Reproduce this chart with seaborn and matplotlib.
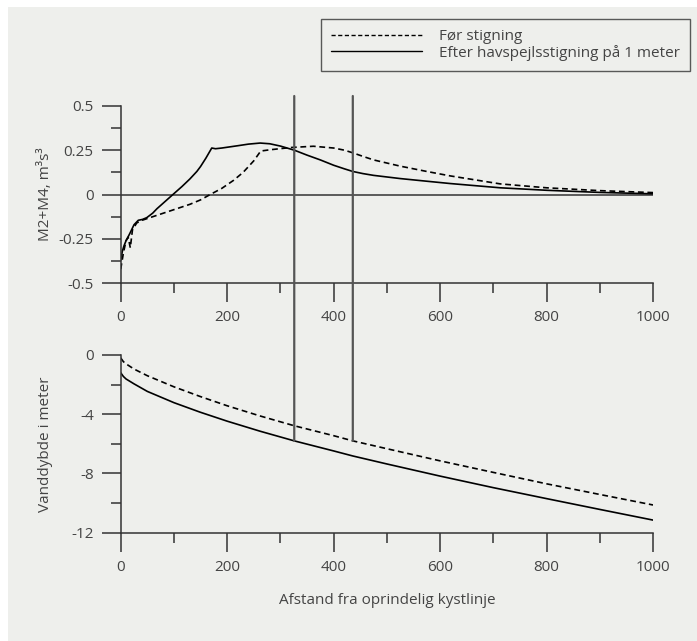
import numpy as np
import pandas as pd
import matplotlib
matplotlib.use("Agg")
import matplotlib.pyplot as plt
from matplotlib.patches import Rectangle, ConnectionPatch
from matplotlib.lines import Line2D
import seaborn as sns

# M2+M4 (m3 s3) langs profilet
flux_x_before = [0, 5, 10, 14, 18, 22, 30, 40, 60, 80, 100, 130, 150, 168, 190, 212, 230, 250, 263,
                 280, 320, 362, 400, 420, 436, 455, 475, 525, 575, 619, 713, 800, 900, 1000]
flux_before = [-0.42, -0.33, -0.26, -0.24, -0.30, -0.20, -0.16, -0.145, -0.125, -0.105, -0.085, -0.055, -0.03, 0.0,
               0.035, 0.08, 0.125, 0.19, 0.245, 0.252, 0.265, 0.272, 0.262, 0.25, 0.235, 0.215, 0.195, 0.16,
               0.13, 0.105, 0.06, 0.038, 0.022, 0.011]
flux_x_after = [0, 3, 6, 10, 17, 25, 33, 41, 49, 60, 68, 80, 98, 115, 130, 143, 150, 160, 171, 178, 190, 220,
                240, 262, 280, 300, 326, 350, 375, 400, 420, 436, 455, 475, 525, 575, 619, 713, 800, 900, 1000]
flux_after = [-0.37, -0.32, -0.29, -0.26, -0.22, -0.17, -0.145, -0.14, -0.13, -0.105, -0.08, -0.048, 0.0, 0.045,
              0.088, 0.13, 0.158, 0.205, 0.262, 0.258, 0.262, 0.275, 0.284, 0.29, 0.286, 0.273, 0.25, 0.222,
              0.195, 0.165, 0.145, 0.13, 0.118, 0.108, 0.09, 0.075, 0.062, 0.038, 0.024, 0.012, 0.004]

# vanddybde (m)
depth_x = [0, 5, 10, 25, 50, 100, 149, 200, 262, 326, 400, 436, 500, 600, 700, 800, 900, 1000]
depth_before = [-0.2, -0.45, -0.6, -0.95, -1.4, -2.15, -2.8, -3.43, -4.12, -4.78, -5.45, -5.8, -6.33, -7.15,
                -7.93, -8.7, -9.42, -10.13]
depth_after = [-1.2, -1.45, -1.62, -1.95, -2.46, -3.22, -3.86, -4.47, -5.15, -5.8, -6.48, -6.82, -7.36, -8.18,
               -8.96, -9.7, -10.43, -11.15]

cut_x = [326, 436]

label_before = "Før stigning"
label_after = "Efter havspejlsstigning på 1 meter"

sns.set_theme(style="ticks")
plt.rcParams['font.family'] = ['Open Sans', 'DejaVu Sans']
plt.rcParams['axes.unicode_minus'] = False

bg = '#eeefec'
ink = '#333333'
txt = '#444444'

fig = plt.figure(figsize=(6.97, 6.41), dpi=100)
fig.patch.set_facecolor('white')
fig.patches.append(Rectangle((8 / 697, 0), 1, 1 - 7 / 641, transform=fig.transFigure,
                             facecolor=bg, edgecolor='none', zorder=-10))

ax1 = fig.add_axes([0.1732, 0.558, 0.7637, 0.277])
ax2 = fig.add_axes([0.1732, 0.169, 0.7637, 0.2772])

df_before = pd.DataFrame({'x': flux_x_before, 'y': flux_before})
df_after = pd.DataFrame({'x': flux_x_after, 'y': flux_after})
sns.lineplot(data=df_before, x='x', y='y', ax=ax1, color='black', lw=1.2,
             linestyle=(0, (3.5, 2.2)), estimator=None, sort=False)
sns.lineplot(data=df_after, x='x', y='y', ax=ax1, color='black', lw=1.2,
             estimator=None, sort=False)
ax1.axhline(0, color=ink, lw=1.1, zorder=1)

ddf = pd.DataFrame({'x': depth_x, 'before': depth_before, 'after': depth_after})
sns.lineplot(data=ddf, x='x', y='before', ax=ax2, color='black', lw=1.2,
             linestyle=(0, (3.5, 2.2)), estimator=None)
sns.lineplot(data=ddf, x='x', y='after', ax=ax2, color='black', lw=1.2,
             estimator=None)

for ax in (ax1, ax2):
    ax.set_facecolor('none')
    ax.set_xlim(0, 1000)
    ax.set_xticks([0, 200, 400, 600, 800, 1000])
    ax.set_xticks([100, 300, 500, 700, 900], minor=True)
    ax.set_xticklabels(['0', '200', '400', '600', '800', '1000'])
    for s in ('top', 'right'):
        ax.spines[s].set_visible(False)
    for s in ('left', 'bottom'):
        ax.spines[s].set_color(ink)
        ax.spines[s].set_linewidth(1.1)
    ax.tick_params(which='major', length=13.5, width=1.1, color=ink, direction='out',
                   pad=6, labelsize=11, labelcolor=txt)
    ax.tick_params(which='minor', length=7, width=1.1, color=ink, direction='out')
    ax.grid(False)

ax1.set_ylim(-0.5, 0.5)
ax1.set_yticks([-0.5, -0.25, 0, 0.25, 0.5])
ax1.set_yticklabels(['-0.5', '-0.25', '0', '0.25', '0.5'])
ax1.set_yticks([-0.375, -0.125, 0.125, 0.375], minor=True)
ax1.set_xlabel('')
ax1.set_ylabel('M2+M4, m³s³', fontsize=11, color=txt)
ax1.yaxis.set_label_coords(-0.127, 0.5)

ax2.set_ylim(-12, 0)
ax2.set_yticks([-12, -8, -4, 0])
ax2.set_yticklabels(['-12', '-8', '-4', '0'])
ax2.set_yticks([-10, -6, -2], minor=True)
ax2.set_ylabel('Vanddybde i meter', fontsize=11, color=txt)
ax2.yaxis.set_label_coords(-0.127, 0.5)
ax2.set_xlabel('Afstand fra oprindelig kystlinje', fontsize=11, color=txt)
ax2.xaxis.set_label_coords(0.5, -0.34)

# lodrette snit gennem begge paneler
ends = [np.interp(cut_x[0], depth_x, depth_after), np.interp(cut_x[1], depth_x, depth_before)]
for cx, ye in zip(cut_x, ends):
    con = ConnectionPatch(xyA=(cx, 0.555), coordsA=ax1.transData,
                          xyB=(cx, ye), coordsB=ax2.transData,
                          color='#555555', lw=1.6, zorder=5)
    fig.add_artist(con)

handles = [Line2D([], [], color='black', lw=1.0, linestyle=(0, (3, 1.8))),
           Line2D([], [], color='black', lw=1.0)]
leg = fig.legend(handles, [label_before, label_after], loc='upper right',
                 bbox_to_anchor=(690 / 697, 1 - 19 / 641), borderaxespad=0,
                 frameon=True, fancybox=False, handlelength=6.0, handletextpad=1.1,
                 borderpad=0.65, labelspacing=0.05, fontsize=11, labelcolor=txt)
leg.get_frame().set_facecolor(bg)
leg.get_frame().set_edgecolor(ink)
leg.get_frame().set_linewidth(1.0)

fig.savefig('out.png', dpi=100, facecolor=fig.get_facecolor())
